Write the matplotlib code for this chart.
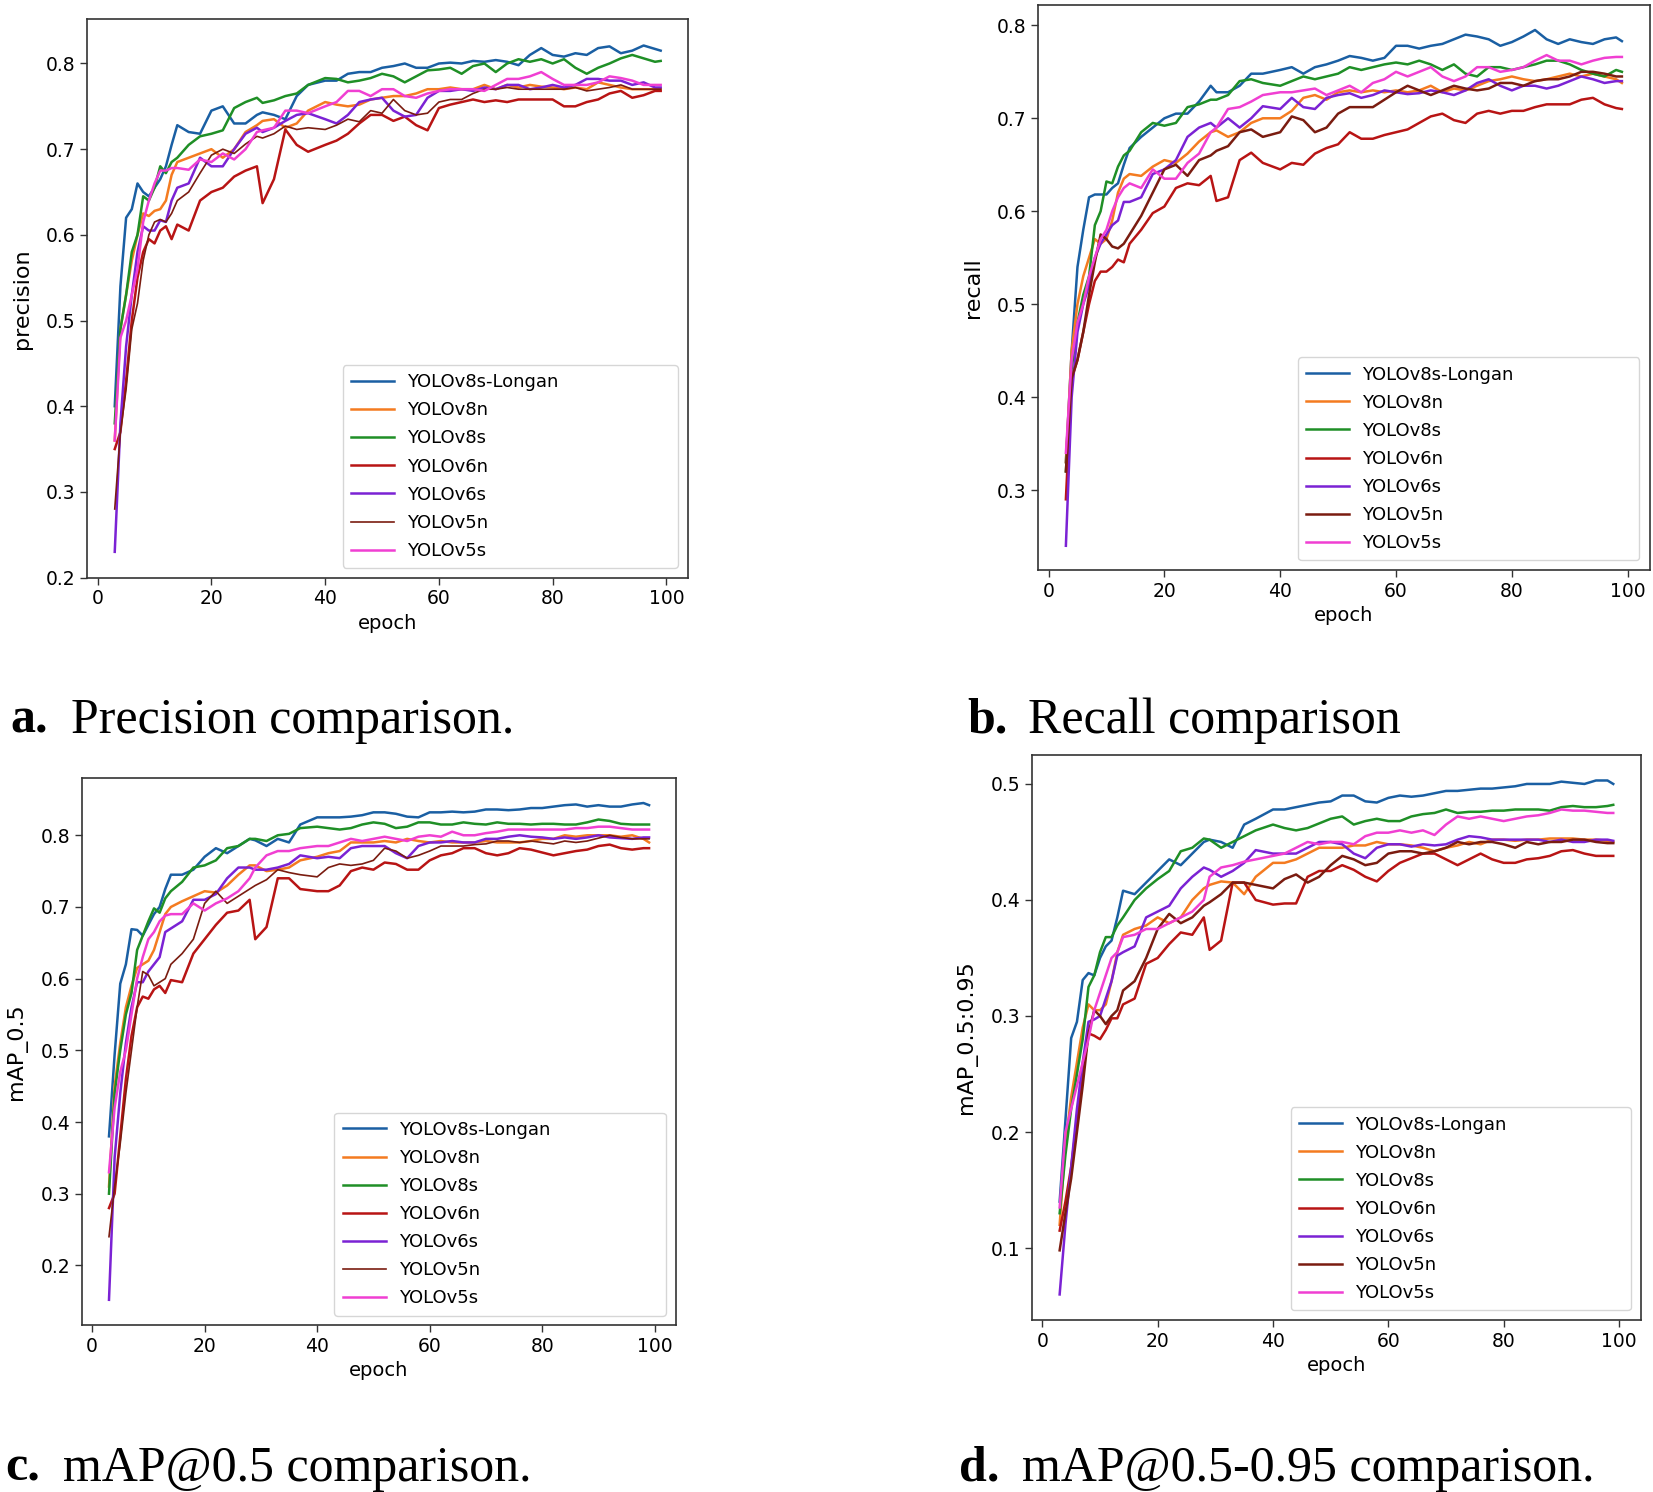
import matplotlib
matplotlib.use("Agg")
import matplotlib.pyplot as plt

epochs = [3, 4, 5, 6, 7, 8, 9, 10, 11, 12, 13,
          14, 16, 18, 20, 22, 24, 26, 28,
          29, 31, 33, 35, 37,
          40, 42, 44, 46, 48, 50, 52, 54, 56, 58, 60, 62, 64, 66, 68, 70, 72, 74, 76, 78,
          80, 82, 84, 86, 88, 90, 92, 94, 96, 98,
          99]

models = ["YOLOv8s-Longan", "YOLOv8n", "YOLOv8s", "YOLOv6n", "YOLOv6s", "YOLOv5n", "YOLOv5s"]
colors = ["#1a5fa3", "#f47b20", "#1f8f26", "#b81414", "#7b22d4", "#7a1c10", "#f03fd2"]

# ---- a. precision
a_longan = [0.40, 0.54, 0.62, 0.63, 0.66, 0.65, 0.645, 0.655, 0.665, 0.68, 0.705,
            0.728, 0.72, 0.718, 0.745, 0.75, 0.73, 0.73, 0.74,
            0.743, 0.74, 0.735, 0.762, 0.775,
            0.78, 0.78, 0.788, 0.79, 0.79, 0.795, 0.797, 0.80, 0.795, 0.795,
            0.80, 0.801, 0.80, 0.803, 0.802, 0.804, 0.802, 0.798, 0.81, 0.818,
            0.81, 0.808, 0.812, 0.81, 0.818, 0.82, 0.812, 0.815, 0.821, 0.817,
            0.815]
a_v8n = [0.36, 0.49, 0.53, 0.57, 0.60, 0.625, 0.622, 0.628, 0.63, 0.64, 0.67,
         0.685, 0.69, 0.695, 0.70, 0.69, 0.70, 0.72, 0.728,
         0.733, 0.735, 0.725, 0.73, 0.745,
         0.755, 0.752, 0.75, 0.752, 0.758, 0.76, 0.762, 0.762, 0.765, 0.77,
         0.77, 0.772, 0.77, 0.77, 0.775, 0.77, 0.775, 0.772, 0.775, 0.773,
         0.772, 0.77, 0.772, 0.77, 0.778, 0.775, 0.772, 0.77, 0.77, 0.77,
         0.77]
a_v8s = [0.38, 0.49, 0.53, 0.58, 0.60, 0.645, 0.64, 0.655, 0.68, 0.672, 0.685,
         0.69, 0.705, 0.715, 0.718, 0.722, 0.748, 0.755, 0.76,
         0.754, 0.757, 0.762, 0.765, 0.775,
         0.783, 0.782, 0.778, 0.78, 0.783, 0.788, 0.785, 0.778, 0.785, 0.792,
         0.793, 0.795, 0.788, 0.797, 0.80, 0.79, 0.80, 0.805, 0.802, 0.805,
         0.80, 0.805, 0.795, 0.788, 0.795, 0.80, 0.806, 0.81, 0.806, 0.802,
         0.803]
a_v6n = [0.35, 0.37, 0.43, 0.50, 0.55, 0.58, 0.595, 0.59, 0.605, 0.61, 0.595,
         0.612, 0.605, 0.64, 0.65, 0.655, 0.668, 0.675, 0.68,
         0.637, 0.665, 0.723, 0.705, 0.697,
         0.705, 0.71, 0.718, 0.73, 0.74, 0.74, 0.733, 0.738, 0.728, 0.722,
         0.748, 0.752, 0.755, 0.758, 0.755, 0.757, 0.755, 0.758, 0.758, 0.758,
         0.758, 0.75, 0.75, 0.755, 0.758, 0.765, 0.768, 0.76, 0.763, 0.768,
         0.768]
a_v6s = [0.23, 0.38, 0.47, 0.53, 0.58, 0.61, 0.605, 0.605, 0.617, 0.615, 0.64,
         0.655, 0.66, 0.69, 0.68, 0.68, 0.70, 0.718, 0.725,
         0.72, 0.725, 0.733, 0.74, 0.742,
         0.735, 0.73, 0.74, 0.755, 0.758, 0.76, 0.745, 0.738, 0.74, 0.76,
         0.768, 0.768, 0.77, 0.768, 0.772, 0.77, 0.775, 0.775, 0.77, 0.772,
         0.775, 0.772, 0.775, 0.782, 0.782, 0.78, 0.78, 0.775, 0.778, 0.772,
         0.772]
a_v5n = [0.28, 0.37, 0.42, 0.49, 0.52, 0.57, 0.60, 0.615, 0.618, 0.615, 0.625,
         0.64, 0.65, 0.672, 0.693, 0.70, 0.695, 0.706, 0.715,
         0.713, 0.718, 0.727, 0.723, 0.725,
         0.723, 0.728, 0.735, 0.732, 0.745, 0.742, 0.758, 0.745, 0.74, 0.742,
         0.755, 0.758, 0.758, 0.765, 0.77, 0.77, 0.772, 0.77, 0.77, 0.77,
         0.77, 0.77, 0.772, 0.768, 0.77, 0.772, 0.775, 0.77, 0.77, 0.77,
         0.77]
a_v5s = [0.36, 0.48, 0.50, 0.53, 0.56, 0.615, 0.64, 0.66, 0.675, 0.675, 0.678,
         0.678, 0.676, 0.688, 0.685, 0.695, 0.688, 0.70, 0.72,
         0.722, 0.725, 0.745, 0.745, 0.742,
         0.75, 0.755, 0.768, 0.768, 0.762, 0.77, 0.77, 0.762, 0.76, 0.765,
         0.768, 0.77, 0.77, 0.77, 0.768, 0.775, 0.782, 0.782, 0.785, 0.79,
         0.782, 0.775, 0.775, 0.775, 0.778, 0.785, 0.783, 0.78, 0.775, 0.775,
         0.775]

# ---- b. recall
b_longan = [0.33, 0.45, 0.54, 0.58, 0.615, 0.618, 0.618, 0.618, 0.625, 0.63, 0.65,
            0.668, 0.68, 0.69, 0.70, 0.705, 0.705, 0.718, 0.735,
            0.728, 0.728, 0.735, 0.748, 0.748,
            0.752, 0.755, 0.748, 0.755, 0.758, 0.762, 0.767, 0.765, 0.762, 0.765,
            0.778, 0.778, 0.775, 0.778, 0.78, 0.785, 0.79, 0.788, 0.785, 0.778,
            0.782, 0.788, 0.795, 0.785, 0.78, 0.785, 0.782, 0.78, 0.785, 0.787,
            0.783]
b_v8n = [0.33, 0.45, 0.50, 0.53, 0.55, 0.57, 0.565, 0.57, 0.59, 0.62, 0.635,
         0.64, 0.638, 0.648, 0.655, 0.652, 0.662, 0.675, 0.685,
         0.687, 0.68, 0.685, 0.695, 0.70,
         0.70, 0.708, 0.722, 0.725, 0.72, 0.728, 0.73, 0.728, 0.73, 0.728,
         0.73, 0.728, 0.73, 0.735, 0.728, 0.732, 0.73, 0.735, 0.74, 0.742,
         0.745, 0.742, 0.74, 0.742, 0.745, 0.748, 0.745, 0.748, 0.745, 0.742,
         0.738]
b_v8s = [0.32, 0.43, 0.48, 0.51, 0.53, 0.585, 0.60, 0.632, 0.63, 0.648, 0.66,
         0.665, 0.685, 0.695, 0.692, 0.695, 0.712, 0.715, 0.72,
         0.72, 0.725, 0.74, 0.742, 0.738,
         0.735, 0.74, 0.745, 0.742, 0.745, 0.748, 0.755, 0.752, 0.755, 0.758,
         0.76, 0.758, 0.762, 0.758, 0.752, 0.758, 0.748, 0.745, 0.755, 0.755,
         0.752, 0.755, 0.758, 0.762, 0.762, 0.758, 0.752, 0.748, 0.745, 0.752,
         0.75]
b_v6n = [0.29, 0.42, 0.44, 0.47, 0.50, 0.525, 0.535, 0.535, 0.54, 0.548, 0.545,
         0.565, 0.58, 0.598, 0.605, 0.625, 0.63, 0.628, 0.638,
         0.611, 0.615, 0.655, 0.663, 0.652,
         0.645, 0.652, 0.65, 0.662, 0.668, 0.672, 0.685, 0.678, 0.678, 0.682,
         0.685, 0.688, 0.695, 0.702, 0.705, 0.698, 0.695, 0.705, 0.708, 0.705,
         0.708, 0.708, 0.712, 0.715, 0.715, 0.715, 0.72, 0.722, 0.715, 0.711,
         0.71]
b_v6s = [0.24, 0.40, 0.47, 0.50, 0.52, 0.55, 0.565, 0.575, 0.585, 0.59, 0.61,
         0.61, 0.615, 0.64, 0.645, 0.655, 0.68, 0.69, 0.695,
         0.69, 0.70, 0.69, 0.70, 0.713,
         0.71, 0.722, 0.712, 0.71, 0.722, 0.725, 0.727, 0.722, 0.725, 0.73,
         0.728, 0.726, 0.727, 0.73, 0.728, 0.725, 0.73, 0.738, 0.742, 0.735,
         0.73, 0.735, 0.735, 0.732, 0.735, 0.74, 0.745, 0.742, 0.738, 0.74,
         0.74]
b_v5n = [0.32, 0.42, 0.44, 0.47, 0.51, 0.545, 0.575, 0.57, 0.562, 0.56, 0.565,
         0.575, 0.595, 0.62, 0.645, 0.65, 0.638, 0.655, 0.66,
         0.665, 0.67, 0.685, 0.688, 0.68,
         0.685, 0.702, 0.698, 0.685, 0.69, 0.705, 0.712, 0.712, 0.712, 0.72,
         0.728, 0.735, 0.73, 0.725, 0.73, 0.735, 0.732, 0.73, 0.732, 0.738,
         0.738, 0.735, 0.74, 0.742, 0.742, 0.745, 0.75, 0.75, 0.748, 0.745,
         0.745]
b_v5s = [0.34, 0.44, 0.48, 0.50, 0.53, 0.55, 0.57, 0.58, 0.60, 0.615, 0.625,
         0.63, 0.625, 0.645, 0.635, 0.635, 0.652, 0.662, 0.685,
         0.69, 0.71, 0.712, 0.718, 0.725,
         0.728, 0.728, 0.73, 0.732, 0.725, 0.73, 0.735, 0.728, 0.738, 0.742,
         0.75, 0.745, 0.75, 0.755, 0.745, 0.74, 0.745, 0.755, 0.755, 0.75,
         0.752, 0.755, 0.762, 0.768, 0.762, 0.762, 0.758, 0.762, 0.765, 0.766,
         0.766]

# ---- c. mAP_0.5
c_longan = [0.38, 0.494, 0.593, 0.62, 0.669, 0.668, 0.66, 0.675, 0.69, 0.70, 0.725,
            0.745, 0.745, 0.752, 0.77, 0.782, 0.775, 0.785, 0.795,
            0.793, 0.785, 0.795, 0.79, 0.815,
            0.825, 0.825, 0.825, 0.826, 0.828, 0.832, 0.832, 0.83, 0.826, 0.825,
            0.832, 0.832, 0.833, 0.832, 0.833, 0.836, 0.836, 0.835, 0.836, 0.838,
            0.838, 0.84, 0.842, 0.843, 0.84, 0.842, 0.84, 0.84, 0.843, 0.845,
            0.842]
c_v8n = [0.31, 0.45, 0.51, 0.56, 0.59, 0.615, 0.62, 0.625, 0.64, 0.665, 0.69,
         0.70, 0.708, 0.715, 0.722, 0.72, 0.73, 0.745, 0.758,
         0.758, 0.75, 0.752, 0.755, 0.765,
         0.77, 0.775, 0.778, 0.79, 0.79, 0.79, 0.792, 0.79, 0.795, 0.792,
         0.79, 0.792, 0.79, 0.79, 0.79, 0.792, 0.79, 0.79, 0.79, 0.792,
         0.795, 0.795, 0.80, 0.798, 0.80, 0.80, 0.80, 0.798, 0.80, 0.795,
         0.79]
c_v8s = [0.30, 0.44, 0.50, 0.55, 0.58, 0.64, 0.66, 0.68, 0.698, 0.692, 0.712,
         0.722, 0.735, 0.755, 0.758, 0.765, 0.782, 0.785, 0.795,
         0.795, 0.792, 0.80, 0.802, 0.81,
         0.812, 0.81, 0.808, 0.81, 0.815, 0.818, 0.816, 0.81, 0.812, 0.818,
         0.818, 0.815, 0.815, 0.818, 0.816, 0.815, 0.818, 0.816, 0.816, 0.815,
         0.816, 0.816, 0.815, 0.815, 0.818, 0.822, 0.82, 0.816, 0.815, 0.815,
         0.815]
c_v6n = [0.28, 0.30, 0.38, 0.46, 0.52, 0.56, 0.575, 0.572, 0.585, 0.59, 0.58,
         0.598, 0.595, 0.635, 0.655, 0.675, 0.692, 0.695, 0.71,
         0.655, 0.672, 0.74, 0.74, 0.725,
         0.722, 0.722, 0.73, 0.75, 0.755, 0.752, 0.762, 0.76, 0.752, 0.752,
         0.765, 0.772, 0.775, 0.782, 0.782, 0.775, 0.772, 0.775, 0.782, 0.78,
         0.776, 0.772, 0.775, 0.778, 0.78, 0.785, 0.787, 0.782, 0.78, 0.782,
         0.782]
c_v6s = [0.152, 0.35, 0.44, 0.51, 0.56, 0.595, 0.595, 0.61, 0.62, 0.63, 0.665,
         0.67, 0.68, 0.71, 0.71, 0.718, 0.74, 0.755, 0.755,
         0.752, 0.752, 0.755, 0.76, 0.772,
         0.768, 0.77, 0.768, 0.782, 0.785, 0.785, 0.785, 0.775, 0.768, 0.785,
         0.79, 0.79, 0.792, 0.79, 0.79, 0.795, 0.795, 0.798, 0.80, 0.798,
         0.797, 0.795, 0.797, 0.795, 0.797, 0.80, 0.797, 0.796, 0.795, 0.797,
         0.797]
c_v5n = [0.24, 0.31, 0.37, 0.44, 0.50, 0.56, 0.61, 0.605, 0.59, 0.595, 0.60,
         0.62, 0.635, 0.655, 0.705, 0.722, 0.705, 0.715, 0.725,
         0.73, 0.738, 0.752, 0.748, 0.745,
         0.742, 0.755, 0.76, 0.758, 0.76, 0.765, 0.782, 0.778, 0.768, 0.772,
         0.778, 0.785, 0.785, 0.785, 0.787, 0.788, 0.792, 0.792, 0.79, 0.792,
         0.79, 0.788, 0.792, 0.79, 0.792, 0.796, 0.80, 0.797, 0.795, 0.795,
         0.795]
c_v5s = [0.33, 0.42, 0.47, 0.50, 0.55, 0.60, 0.63, 0.655, 0.665, 0.68, 0.688,
         0.69, 0.69, 0.705, 0.695, 0.705, 0.712, 0.722, 0.74,
         0.755, 0.772, 0.778, 0.778, 0.782,
         0.785, 0.785, 0.79, 0.795, 0.792, 0.795, 0.798, 0.795, 0.792, 0.798,
         0.80, 0.798, 0.805, 0.80, 0.80, 0.803, 0.805, 0.808, 0.808, 0.808,
         0.808, 0.808, 0.808, 0.81, 0.81, 0.812, 0.812, 0.81, 0.808, 0.808,
         0.808]

# ---- d. mAP_0.5:0.95
d_longan = [0.14, 0.21, 0.281, 0.295, 0.331, 0.337, 0.335, 0.35, 0.36, 0.365, 0.385,
            0.408, 0.405, 0.415, 0.425, 0.435, 0.43, 0.44, 0.45,
            0.452, 0.45, 0.445, 0.465, 0.47,
            0.478, 0.478, 0.48, 0.482, 0.484, 0.485, 0.49, 0.49, 0.485, 0.484,
            0.488, 0.49, 0.489, 0.49, 0.492, 0.494, 0.494, 0.495, 0.496, 0.496,
            0.497, 0.498, 0.50, 0.50, 0.50, 0.502, 0.501, 0.50, 0.503, 0.503,
            0.50]
d_v8n = [0.12, 0.19, 0.23, 0.26, 0.29, 0.31, 0.305, 0.305, 0.31, 0.33, 0.355,
         0.37, 0.375, 0.378, 0.385, 0.38, 0.385, 0.40, 0.41,
         0.413, 0.416, 0.415, 0.405, 0.42,
         0.432, 0.432, 0.435, 0.44, 0.445, 0.445, 0.445, 0.447, 0.447, 0.45,
         0.448, 0.448, 0.447, 0.445, 0.442, 0.445, 0.447, 0.45, 0.448, 0.452,
         0.452, 0.451, 0.452, 0.452, 0.453, 0.453, 0.453, 0.452, 0.452, 0.451,
         0.45]
d_v8s = [0.13, 0.18, 0.22, 0.25, 0.28, 0.325, 0.335, 0.355, 0.368, 0.368, 0.378,
         0.385, 0.40, 0.41, 0.418, 0.425, 0.442, 0.445, 0.453,
         0.452, 0.445, 0.45, 0.455, 0.46,
         0.465, 0.462, 0.46, 0.462, 0.466, 0.47, 0.472, 0.465, 0.468, 0.47,
         0.468, 0.468, 0.472, 0.474, 0.475, 0.478, 0.475, 0.476, 0.476, 0.477,
         0.477, 0.478, 0.478, 0.478, 0.477, 0.48, 0.481, 0.48, 0.48, 0.481,
         0.482]
d_v6n = [0.115, 0.14, 0.17, 0.21, 0.25, 0.285, 0.283, 0.28, 0.288, 0.298, 0.298,
         0.31, 0.315, 0.345, 0.35, 0.362, 0.372, 0.37, 0.385,
         0.357, 0.365, 0.415, 0.415, 0.40,
         0.396, 0.397, 0.397, 0.42, 0.425, 0.425, 0.43, 0.426, 0.42, 0.416,
         0.425, 0.432, 0.436, 0.44, 0.44, 0.435, 0.43, 0.435, 0.44, 0.435,
         0.432, 0.432, 0.435, 0.436, 0.438, 0.442, 0.443, 0.44, 0.438, 0.438,
         0.438]
d_v6s = [0.06, 0.12, 0.17, 0.22, 0.26, 0.295, 0.297, 0.30, 0.315, 0.33, 0.352,
         0.355, 0.36, 0.385, 0.39, 0.395, 0.41, 0.42, 0.428,
         0.426, 0.42, 0.425, 0.432, 0.443,
         0.44, 0.44, 0.44, 0.445, 0.45, 0.45, 0.448, 0.44, 0.436, 0.445,
         0.448, 0.448, 0.446, 0.448, 0.447, 0.448, 0.452, 0.455, 0.454, 0.452,
         0.452, 0.452, 0.452, 0.452, 0.45, 0.452, 0.45, 0.45, 0.452, 0.452,
         0.451]
d_v5n = [0.098, 0.13, 0.16, 0.20, 0.24, 0.285, 0.305, 0.30, 0.293, 0.30, 0.305,
         0.322, 0.33, 0.35, 0.375, 0.388, 0.38, 0.385, 0.395,
         0.398, 0.405, 0.415, 0.415, 0.413,
         0.41, 0.418, 0.422, 0.415, 0.42, 0.43, 0.438, 0.435, 0.43, 0.432,
         0.44, 0.442, 0.442, 0.44, 0.442, 0.445, 0.45, 0.448, 0.45, 0.45,
         0.448, 0.445, 0.45, 0.448, 0.45, 0.45, 0.452, 0.452, 0.45, 0.449,
         0.449]
d_v5s = [0.135, 0.20, 0.22, 0.24, 0.26, 0.28, 0.305, 0.32, 0.335, 0.35, 0.355,
         0.368, 0.37, 0.375, 0.375, 0.38, 0.385, 0.39, 0.40,
         0.42, 0.428, 0.43, 0.433, 0.435,
         0.438, 0.44, 0.445, 0.45, 0.448, 0.45, 0.45, 0.448, 0.455, 0.458,
         0.458, 0.46, 0.458, 0.46, 0.456, 0.465, 0.472, 0.47, 0.472, 0.47,
         0.468, 0.47, 0.472, 0.473, 0.475, 0.478, 0.477, 0.477, 0.476, 0.475,
         0.475]

panels = [
    # series, ylabel, ylim, axes rect, thin v5n line
    ([a_longan, a_v8n, a_v8s, a_v6n, a_v6s, a_v5n, a_v5s], "precision", (0.2, 0.852),
     [0.0529, 0.6129, 0.3633, 0.3744], True),
    ([b_longan, b_v8n, b_v8s, b_v6n, b_v6s, b_v5n, b_v5s], "recall", (0.214, 0.8215),
     [0.628, 0.618, 0.370, 0.3784], False),
    ([c_longan, c_v8n, c_v8s, c_v6n, c_v6s, c_v5n, c_v5s], "mAP_0.5", (0.117, 0.880),
     [0.0496, 0.112, 0.3594, 0.3666], True),
    ([d_longan, d_v8n, d_v8s, d_v6n, d_v6s, d_v5n, d_v5s], "mAP_0.5:0.95", (0.038, 0.525),
     [0.6243, 0.1153, 0.3684, 0.3787], False),
]

fig = plt.figure(figsize=(16.53, 14.92), dpi=100)

for series, ylab, ylim, rect, thin in panels:
    ax = fig.add_axes(rect)
    for name, col, vals in zip(models, colors, series):
        assert len(vals) == len(epochs), (ylab, name, len(vals))
        lw = 1.2 if (thin and name == "YOLOv5n") else 1.8
        ax.plot(epochs, vals, color=col, lw=lw, label=name)
    ax.set_xlim(-1.8, 103.8)
    ax.set_ylim(*ylim)
    ax.set_xticks([0, 20, 40, 60, 80, 100])
    ax.tick_params(labelsize=13.5, width=1.0, length=5, color="#333333")
    for s in ax.spines.values():
        s.set_linewidth(1.2)
        s.set_color("#333333")
    ax.set_xlabel("epoch", fontsize=14)
    ax.set_ylabel(ylab, fontsize=16, labelpad=10)
    ax.legend(loc="lower left", bbox_to_anchor=(0.425, 0.017, 0.558, 0.36), mode="expand",
              borderaxespad=0, fontsize=13, handlelength=2.4, handletextpad=0.7,
              labelspacing=0.56, borderpad=0.45, framealpha=0.8)

captions = [
    (0.006, 0.509, "a.", 0.043, "Precision comparison."),
    (0.585, 0.509, "b.", 0.622, "Recall comparison"),
    (0.003, 0.0075, "c.", 0.038, "mAP@0.5 comparison."),
    (0.580, 0.0075, "d.", 0.618, "mAP@0.5-0.95 comparison."),
]
for xl, y, letter, xt, txt in captions:
    fig.text(xl, y, letter, fontsize=36, fontweight="bold", family="Liberation Serif",
             ha="left", va="baseline")
    fig.text(xt, y, txt, fontsize=36, family="Liberation Serif", ha="left", va="baseline")

fig.savefig("out.png", dpi=100)
